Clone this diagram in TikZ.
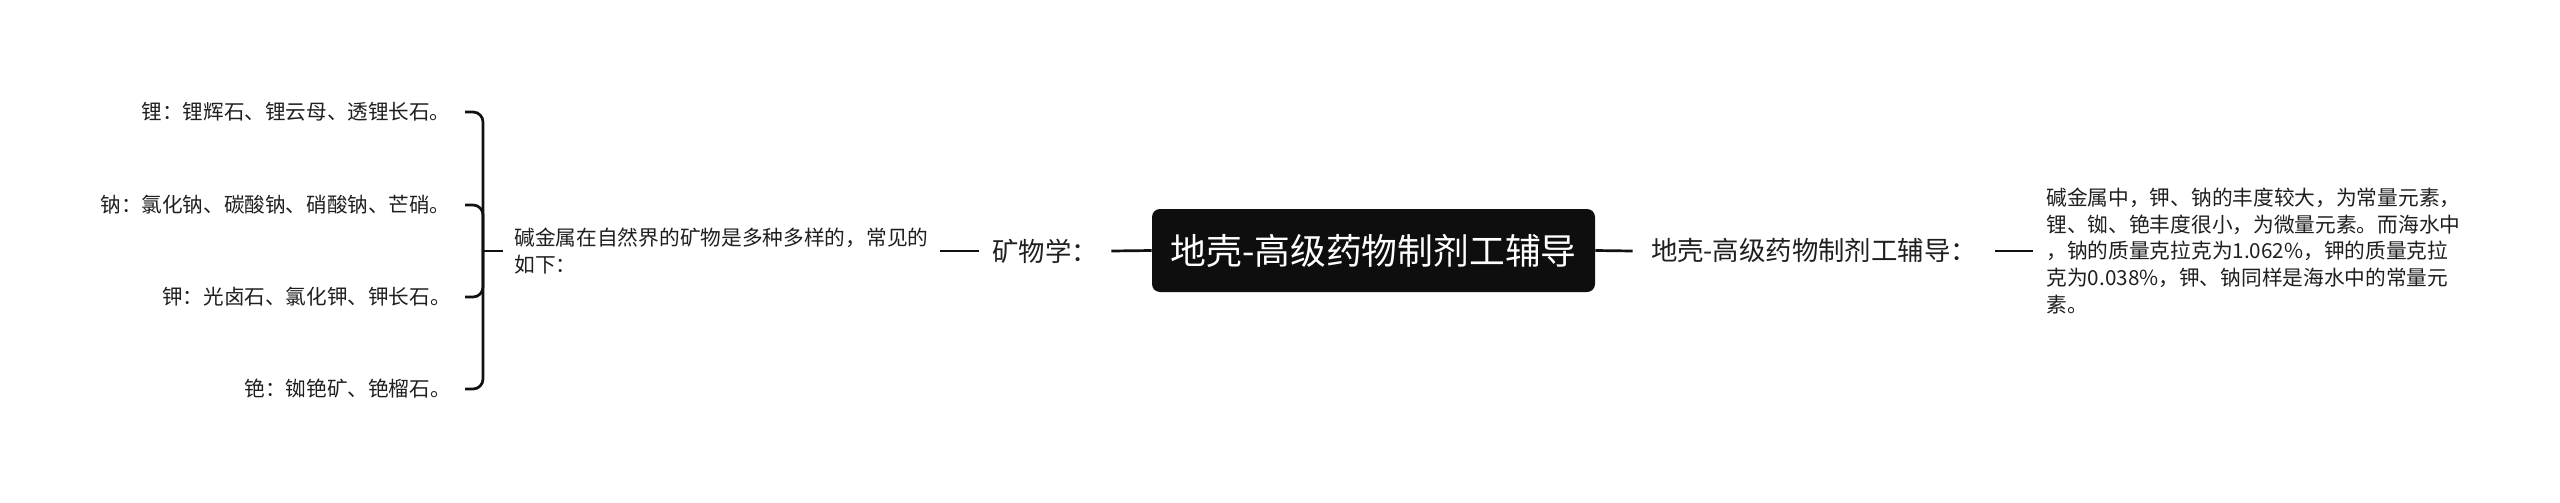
\documentclass[tikz,border=0pt]{standalone}
\usepackage{fontspec}
\setmainfont{Noto Sans CJK SC}
\usepackage{xcolor}
\usepackage{tikz}

\definecolor{inkline}{HTML}{111111}
\definecolor{inktext}{HTML}{1F1F1F}
\definecolor{rootfill}{HTML}{0E0E0E}

\begin{document}
\begin{tikzpicture}[x=0.5pt, y=-0.5pt,
        link/.style={draw=inkline, line width=1.35pt},
        brace/.style={draw=inkline, line width=1.35pt, rounded corners=5pt},
        leaf/.style={anchor=east, inner xsep=7pt, inner ysep=0pt, text=inktext,
            font=\fontsize{10.3pt}{12pt}\selectfont},
        label/.style={inner sep=0pt, text=inktext, font=\fontsize{13.2pt}{15pt}\selectfont},
        note/.style={anchor=west, align=left, inner ysep=0pt, text=inktext,
            font=\fontsize{10.35pt}{13.35pt}\selectfont}]
        \useasboundingbox (0,0) rectangle (2560,503);

        % Root
        \node[fill=rootfill, text=white, rounded corners=4pt, inner sep=0pt,
            minimum width=221.5pt, minimum height=41.5pt,
            font=\fontsize{17.9pt}{20pt}\selectfont]
            (root) at (1373.5,250.5) {地壳-高级药物制剂工辅导};

        % Left side
        \node[label, minimum width=66pt] (mineral) at (1045,251) {矿物学：};
        \draw[link] (root.west) -- (mineral.east);

        \node[note, inner xsep=5.5pt] (intro) at (503,251)
            {碱金属在自然界的矿物是多种多样的，常见的\\如下：};
        \draw[link] (mineral.west) -- (intro.east);

        \coordinate (hub) at (483,251);
        \draw[link] (intro.west) -- (hub);

        \node[leaf] (li) at (465,112) {锂：锂辉石、锂云母、透锂长石。};
        \node[leaf] (na) at (465,205) {钠：氯化钠、碳酸钠、硝酸钠、芒硝。};
        \node[leaf] (ka) at (465,297) {钾：光卤石、氯化钾、钾长石。};
        \node[leaf] (cs) at (465,389) {铯：铷铯矿、铯榴石。};
        \foreach \m in {li,na,ka,cs}
            \draw[brace] (hub) |- (\m.east);

        % Right side
        \node[label, minimum width=181pt] (crust) at (1814,251) {地壳-高级药物制剂工辅导：};
        \draw[link] (root.east) -- (crust.west);

        \node[note, inner xsep=6.5pt] (abund) at (2033,251)
            {碱金属中，钾、钠的丰度较大，为常量元素，\\
             锂、铷、铯丰度很小，为微量元素。而海水中\\
             ，钠的质量克拉克为1.062\%，钾的质量克拉\\
             克为0.038\%，钾、钠同样是海水中的常量元\\
             素。};
        \draw[link] (crust.east) -- (abund.west);
    \end{tikzpicture}
\end{document}
